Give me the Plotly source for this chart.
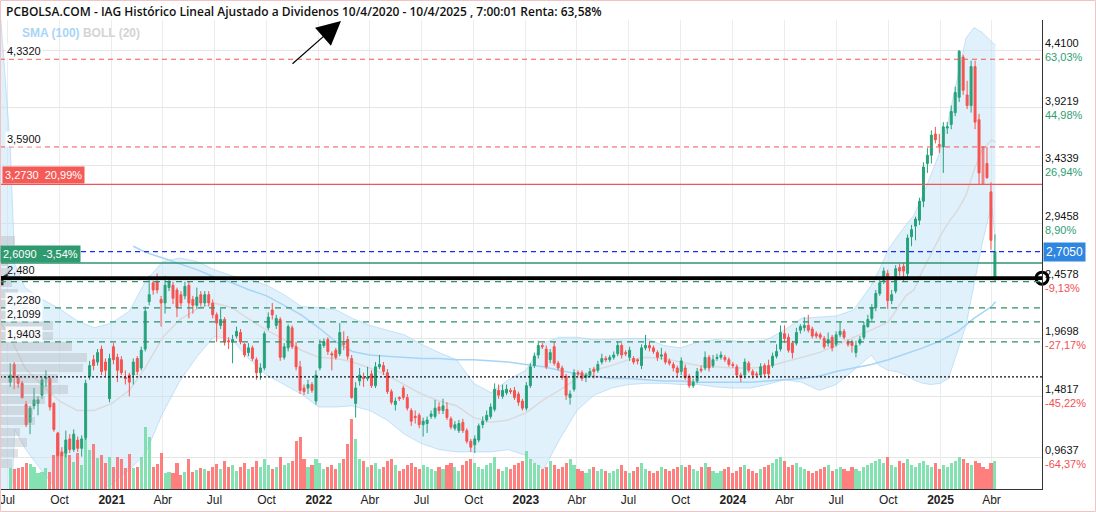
import plotly.graph_objects as go
import pandas as pd

# ---------------- weekly candles (IAG) ----------------
open_ = [1.60,1.75,1.64,1.59,1.41,1.26,1.40,1.42,1.49,1.63,
         1.63,1.42,1.17,1.01,1.00,1.12,1.03,1.11,1.04,1.13,
         1.65,1.79,1.77,1.88,1.77,1.46,1.90,1.81,1.79,1.64,
         1.66,1.66,1.80,1.72,1.88,2.28,2.44,2.45,2.30,2.27,
         2.40,2.42,2.38,2.34,2.33,2.42,2.30,2.25,2.34,2.27,
         2.34,2.27,2.17,2.08,2.13,1.95,1.94,1.99,2.02,1.92,
         1.85,1.89,1.79,1.68,1.72,2.06,2.21,2.08,2.13,1.81,
         1.89,2.06,1.90,1.73,1.55,1.55,1.58,1.44,1.72,1.91,
         1.96,1.84,1.87,1.84,1.93,1.96,1.80,1.42,1.61,1.64,
         1.63,1.67,1.57,1.73,1.74,1.68,1.52,1.41,1.47,1.55,
         1.47,1.36,1.31,1.32,1.24,1.25,1.31,1.31,1.39,1.36,
         1.37,1.29,1.21,1.19,1.26,1.19,1.10,1.07,1.11,1.24,
         1.28,1.31,1.37,1.53,1.48,1.51,1.53,1.53,1.50,1.44,
         1.38,1.57,1.74,1.83,1.91,1.88,1.79,1.90,1.76,1.72,
         1.65,1.47,1.54,1.68,1.68,1.64,1.66,1.71,1.70,1.77,
         1.80,1.79,1.81,1.84,1.91,1.85,1.81,1.80,1.79,1.74,
         1.89,1.91,1.89,1.85,1.82,1.84,1.78,1.75,1.72,1.69,
         1.72,1.65,1.57,1.61,1.71,1.72,1.81,1.74,1.80,1.81,
         1.81,1.79,1.75,1.73,1.66,1.66,1.76,1.69,1.67,1.66,
         1.74,1.74,1.74,1.82,1.88,2.01,1.98,1.93,1.93,2.04,
         2.06,2.08,2.05,2.01,2.00,1.97,1.93,1.98,1.92,2.00,
         2.03,1.94,1.94,1.85,1.93,1.98,2.07,2.14,2.23,2.35,
         2.46,2.52,2.29,2.37,2.57,2.58,2.52,2.83,2.92,2.97,
         3.13,3.45,3.52,3.70,3.61,3.59,3.75,3.78,3.88,4.01,
         4.35,4.03,3.94,4.27,3.82,3.59,3.45,3.21,2.48]
high = [1.76,1.77,1.66,1.61,1.44,1.40,1.55,1.48,1.64,1.70,
        1.65,1.43,1.18,1.05,1.19,1.16,1.20,1.14,1.15,1.62,
        1.78,1.83,1.88,1.91,1.80,1.84,1.93,1.84,1.82,1.70,
        1.68,1.80,1.82,1.90,2.24,2.50,2.46,2.52,2.33,2.50,
        2.49,2.45,2.40,2.37,2.45,2.45,2.33,2.40,2.37,2.37,
        2.37,2.30,2.19,2.22,2.15,1.98,2.00,2.07,2.05,1.93,
        1.93,1.91,1.81,1.76,2.03,2.19,2.27,2.17,2.15,1.93,
        2.09,2.08,1.94,1.78,1.58,1.62,1.60,1.70,1.96,1.97,
        1.98,1.86,1.89,2.10,2.03,1.99,1.83,1.60,1.72,1.68,
        1.73,1.70,1.77,1.83,1.77,1.71,1.54,1.47,1.48,1.57,
        1.50,1.38,1.36,1.34,1.30,1.31,1.36,1.45,1.43,1.46,
        1.43,1.31,1.27,1.28,1.29,1.21,1.12,1.15,1.25,1.31,
        1.36,1.42,1.59,1.58,1.58,1.58,1.55,1.56,1.52,1.46,
        1.60,1.76,1.85,1.95,1.93,1.91,1.88,1.94,1.78,1.74,
        1.67,1.53,1.71,1.70,1.70,1.68,1.72,1.73,1.78,1.84,
        1.82,1.83,1.86,1.94,1.93,1.87,1.90,1.82,1.80,1.92,
        2.00,1.94,1.91,1.87,1.89,1.86,1.80,1.77,1.74,1.81,
        1.75,1.67,1.63,1.72,1.74,1.86,1.83,1.83,1.84,1.86,
        1.83,1.81,1.77,1.75,1.68,1.80,1.78,1.71,1.69,1.76,
        1.76,1.79,1.85,1.92,2.08,2.08,2.01,1.95,2.06,2.09,
        2.15,2.17,2.07,2.03,2.02,1.99,2.02,2.00,2.03,2.11,
        2.05,1.96,1.96,1.95,1.99,2.11,2.17,2.26,2.38,2.47,
        2.57,2.55,2.38,2.59,2.60,2.61,2.85,2.93,3.00,3.16,
        3.46,3.58,3.73,3.76,3.70,3.80,3.80,3.94,4.10,4.41,
        4.37,4.15,4.32,4.32,3.87,3.59,3.59,3.29,2.85]
low = [1.56,1.54,1.55,1.46,1.22,1.16,1.37,1.32,1.46,1.56,
       1.36,1.18,0.97,0.97,0.9637,1.00,1.01,1.01,0.97,1.11,
       1.62,1.70,1.74,1.66,1.65,1.43,1.75,1.60,1.66,1.58,
       1.48,1.58,1.66,1.70,1.86,2.25,2.34,2.35,2.07,2.18,
       2.37,2.26,2.15,2.24,2.30,2.14,2.18,2.22,2.24,2.24,
       2.24,2.14,1.94,2.05,1.91,1.88,1.76,1.97,1.92,1.81,
       1.82,1.78,1.62,1.62,1.70,2.04,2.13,2.05,1.78,1.79,
       1.86,1.88,1.70,1.50,1.49,1.50,1.51,1.41,1.70,1.89,
       1.83,1.70,1.79,1.82,1.87,1.79,1.46,1.30,1.57,1.56,
       1.61,1.55,1.55,1.71,1.66,1.50,1.41,1.36,1.44,1.45,
       1.36,1.23,1.25,1.21,1.14,1.17,1.29,1.29,1.33,1.33,
       1.28,1.20,1.19,1.17,1.17,1.08,1.01,1.00,1.09,1.21,
       1.26,1.29,1.35,1.46,1.46,1.49,1.50,1.45,1.40,1.36,
       1.36,1.55,1.72,1.80,1.88,1.71,1.76,1.74,1.70,1.62,
       1.45,1.41,1.52,1.65,1.61,1.60,1.64,1.63,1.68,1.75,
       1.77,1.77,1.79,1.82,1.80,1.82,1.78,1.75,1.75,1.71,
       1.87,1.86,1.84,1.78,1.79,1.75,1.74,1.69,1.65,1.66,
       1.62,1.55,1.55,1.59,1.68,1.70,1.69,1.72,1.78,1.79,
       1.77,1.73,1.72,1.64,1.60,1.63,1.68,1.63,1.64,1.64,
       1.65,1.63,1.72,1.80,1.86,1.93,1.85,1.80,1.91,2.01,
       2.03,2.02,1.97,1.97,1.96,1.88,1.90,1.86,1.90,1.98,
       1.96,1.90,1.85,1.81,1.91,1.96,2.06,2.12,2.20,2.33,
       2.43,2.22,2.26,2.35,2.50,2.45,2.48,2.75,2.80,2.93,
       3.08,3.37,3.45,3.62,3.54,3.37,3.70,3.74,3.85,3.97,
       4.03,3.91,3.88,3.74,3.27,3.27,3.32,2.72,2.45]
close = [1.66,1.64,1.59,1.47,1.24,1.38,1.45,1.45,1.62,1.64,
         1.39,1.20,0.98,0.98,1.11,1.03,1.16,1.04,1.12,1.59,
         1.74,1.74,1.85,1.69,1.70,1.80,1.79,1.70,1.68,1.63,
         1.60,1.77,1.69,1.87,2.20,2.34,2.38,2.38,2.27,2.42,
         2.45,2.31,2.23,2.27,2.41,2.27,2.25,2.32,2.27,2.34,
         2.27,2.17,2.10,2.13,1.94,1.94,1.96,2.03,1.94,1.83,
         1.89,1.80,1.68,1.72,2.01,2.15,2.17,2.14,1.81,1.90,
         2.07,1.90,1.73,1.53,1.52,1.58,1.53,1.66,1.92,1.94,
         1.86,1.83,1.81,2.02,1.92,1.82,1.47,1.55,1.66,1.63,
         1.64,1.57,1.73,1.75,1.69,1.52,1.43,1.44,1.46,1.47,
         1.38,1.27,1.30,1.24,1.27,1.28,1.33,1.38,1.36,1.40,
         1.30,1.22,1.24,1.25,1.19,1.10,1.05,1.12,1.23,1.27,
         1.32,1.39,1.54,1.49,1.53,1.54,1.52,1.47,1.43,1.38,
         1.57,1.73,1.82,1.91,1.90,1.73,1.85,1.76,1.72,1.64,
         1.49,1.50,1.68,1.67,1.63,1.66,1.69,1.69,1.75,1.80,
         1.79,1.81,1.83,1.91,1.83,1.84,1.87,1.77,1.78,1.89,
         1.91,1.89,1.86,1.81,1.83,1.77,1.76,1.72,1.68,1.78,
         1.64,1.57,1.60,1.69,1.70,1.81,1.72,1.79,1.81,1.83,
         1.79,1.75,1.74,1.66,1.64,1.77,1.70,1.66,1.66,1.73,
         1.67,1.67,1.82,1.86,2.02,1.97,1.87,1.85,2.02,2.07,
         2.08,2.04,1.99,1.99,1.98,1.90,1.96,1.89,2.00,2.03,
         1.98,1.92,1.91,1.91,1.96,2.08,2.13,2.23,2.35,2.44,
         2.54,2.29,2.34,2.56,2.54,2.54,2.82,2.89,2.98,3.13,
         3.42,3.52,3.69,3.65,3.60,3.76,3.76,3.89,4.05,4.40,
         4.07,3.94,4.27,3.80,3.37,3.273,3.33,2.80,2.705]
volume = [21,20,21,22,26,25,22,16,17,21,17,34,55,34,44,34,27,36,24,51,
          39,45,31,34,26,32,22,32,30,21,35,21,22,32,62,52,22,25,36,16,
          17,16,26,14,17,30,17,19,21,
          20,18,22,25,20,28,22,24,18,22,26,20,22,28,22,
          30,24,20,22,32,24,26,28,48,52,
          30,22,24,30,26,20,22,24,20,26,
          30,45,70,50,30,28,
          22,24,26,20,22,28,30,24,18,20,24,26,22,20,24,22,20,18,22,20,24,26,22,18,24,28,
          30,26,22,20,24,26,32,20,18,22,20,24,26,28,38,
          30,26,24,20,22,28,24,20,22,26,30,24,20,18,16,20,22,18,20,
          18,16,18,20,24,18,16,18,22,26,20,18,16,18,22,20,18,20,22,24,
          22,24,20,18,22,26,22,18,16,18,20,22,16,18,22,24,20,18,16,20,
          22,24,26,30,32,28,22,24,26,22,20,18,16,18,20,22,24,18,20,22,
          20,18,22,20,18,22,24,26,28,30,26,32,24,22,28,26,30,24,22,26,
          28,24,22,26,20,24,22,26,28,32,30,26,24,28,26,22,20,26,28]

# ---------------- Bollinger (20) and SMA (100) ----------------
bb_dates = ["2020-06-19","2020-07-06","2020-07-14","2020-08-01","2020-09-01","2020-10-01","2020-11-01","2020-12-01",
            "2021-01-01","2021-02-01","2021-03-01","2021-04-01","2021-05-01","2021-06-01","2021-07-01","2021-08-01",
            "2021-09-01","2021-10-01","2021-11-01","2021-12-01","2022-01-01","2022-02-01","2022-03-01","2022-04-01",
            "2022-05-01","2022-06-01","2022-07-01","2022-08-01","2022-09-01","2022-10-01","2022-11-01","2022-12-01",
            "2023-01-01","2023-02-01","2023-03-01","2023-04-01","2023-05-01","2023-06-01","2023-07-01","2023-08-01",
            "2023-09-01","2023-10-01","2023-11-01","2023-12-01","2024-01-01","2024-02-01","2024-03-01","2024-04-01",
            "2024-05-01","2024-06-01","2024-07-01","2024-08-01","2024-09-01","2024-09-15","2024-10-01","2024-10-15",
            "2024-11-01","2024-11-15","2024-12-01","2024-12-15","2025-01-01","2025-01-15","2025-02-01","2025-02-15",
            "2025-03-01","2025-03-15","2025-04-01","2025-04-08"]
bb_upper = [4.70,3.60,2.60,2.40,2.30,2.22,2.12,2.06,
            2.10,2.20,2.45,2.62,2.65,2.62,2.55,2.50,
            2.47,2.42,2.34,2.24,2.23,2.21,2.14,2.08,
            2.04,2.00,1.92,1.85,1.79,1.59,1.51,1.62,
            1.70,1.93,1.98,1.98,1.96,1.96,1.97,1.97,
            1.91,1.89,1.94,1.96,1.95,1.94,1.96,2.04,
            2.14,2.15,2.16,2.21,2.42,2.55,2.72,2.82,
            2.93,3.01,3.18,3.35,3.56,3.82,4.20,4.51,
            4.60,4.56,4.48,4.45]
bb_mid = [2.10,1.98,1.90,1.72,1.57,1.44,1.36,1.36,
          1.42,1.53,1.72,1.98,2.13,2.22,2.27,2.23,
          2.13,2.04,1.96,1.87,1.81,1.80,1.77,1.72,
          1.66,1.58,1.50,1.44,1.40,1.30,1.26,1.28,
          1.34,1.45,1.53,1.63,1.70,1.74,1.79,1.81,
          1.80,1.77,1.74,1.73,1.72,1.72,1.73,1.77,
          1.81,1.85,1.91,1.98,2.04,2.07,2.11,2.21,
          2.33,2.38,2.55,2.68,2.84,2.95,3.06,3.18,
          3.39,3.56,3.65,3.63]
bb_lower = [-0.50,0.36,1.20,1.04,0.84,0.66,0.60,0.66,
            0.74,0.86,0.99,1.34,1.61,1.82,1.99,1.96,
            1.79,1.66,1.58,1.50,1.39,1.39,1.40,1.36,
            1.28,1.16,1.08,1.03,1.01,1.01,1.01,1.03,
            0.98,0.86,1.11,1.36,1.49,1.55,1.58,1.59,
            1.59,1.58,1.58,1.56,1.55,1.55,1.58,1.62,
            1.60,1.53,1.58,1.70,1.83,1.74,1.70,1.69,
            1.66,1.62,1.59,1.58,1.59,1.63,1.87,2.08,
            2.42,2.76,3.10,2.80]

sma_dates = ["2021-02-08","2021-03-01","2021-04-01","2021-05-01","2021-06-01","2021-07-01","2021-08-01",
             "2021-09-01","2021-10-01","2021-11-01","2021-12-01","2022-01-01","2022-02-01","2022-03-01",
             "2022-04-01","2022-05-01","2022-06-01","2022-07-01","2022-08-01","2022-09-01","2022-10-01",
             "2022-11-01","2022-12-01","2023-01-01","2023-02-01","2023-03-01","2023-04-01","2023-05-01",
             "2023-06-01","2023-07-01","2023-08-01","2023-09-01","2023-10-01","2023-11-01","2023-12-01",
             "2024-01-01","2024-02-01","2024-03-01","2024-04-01","2024-05-01","2024-06-01","2024-07-01",
             "2024-08-01","2024-09-01","2024-10-01","2024-11-01","2024-12-01","2025-01-01","2025-02-01",
             "2025-03-01","2025-04-01","2025-04-08"]
sma_vals = [2.75,2.70,2.65,2.60,2.55,2.49,2.44,
            2.38,2.33,2.25,2.17,2.06,1.94,1.86,
            1.83,1.82,1.81,1.80,1.80,1.79,1.79,
            1.78,1.77,1.75,1.73,1.70,1.67,1.65,
            1.63,1.63,1.62,1.61,1.61,1.60,1.60,
            1.60,1.60,1.61,1.62,1.63,1.65,1.69,
            1.72,1.75,1.79,1.84,1.89,1.95,2.03,
            2.14,2.24,2.28]

# ---------------- volume-at-price profile (left) ----------------
prof_price = [2.80,2.71,2.62,2.53,2.44,2.35,2.26,2.17,2.08,1.99,1.90,1.81,1.72,1.63,1.54,1.45,1.36,1.27,1.18,1.09,1.00,0.91]
prof_size = [15,12,8,10,12,18,22,25,53,53,72,87,83,58,68,45,33,35,20,27,18,12]

# ---------------- reference levels ----------------
levels_red_dash = [4.3320, 3.5900]
level_red = 3.2730
level_blue = 2.7050
level_green = 2.6090
level_black = 2.480
levels_green_dash = [2.45, 2.2280, 2.1099, 1.9403]
level_dotted = 1.645

axis_vals = [4.4100, 3.9219, 3.4339, 2.9458, 2.4578, 1.9698, 1.4817, 0.9637]
axis_pcts = ["63,03%", "44,98%", "26,94%", "8,90%", "-9,13%", "-27,17%", "-45,22%", "-64,37%"]

tick_dates = pd.date_range("2020-07-01", "2025-04-01", freq="QS")
tick_text = [("<b>%d</b>" % d.year) if d.month == 1 else {4: "Abr", 7: "Jul", 10: "Oct"}[d.month] for d in tick_dates]

dates = pd.date_range(end="2025-04-07", periods=len(close), freq="7D")
hollow_idx = 245

GREEN = "#26a27a"
RED = "#f6534f"
W = 1042.0  # plot width px
H = 469.0   # plot height px

fig = go.Figure()

# Bollinger band
fig.add_trace(go.Scatter(x=bb_dates, y=bb_upper, mode="lines",
                         line=dict(color="rgba(165,210,242,0.6)", width=1), hoverinfo="skip", showlegend=False))
fig.add_trace(go.Scatter(x=bb_dates, y=bb_lower, mode="lines",
                         line=dict(color="rgba(165,210,242,0.6)", width=1), fill="tonexty",
                         fillcolor="rgba(196,228,250,0.5)", hoverinfo="skip", showlegend=False))
fig.add_trace(go.Scatter(x=bb_dates, y=bb_mid, mode="lines", line=dict(color="#dadada", width=1.5),
                         hoverinfo="skip", showlegend=False))
fig.add_trace(go.Scatter(x=sma_dates, y=sma_vals, mode="lines", line=dict(color="#a6d4f7", width=1.5),
                         hoverinfo="skip", showlegend=False))

# volume profile
fig.add_trace(go.Bar(x=prof_size, y=prof_price, orientation="h", xaxis="x2", yaxis="y",
                     marker=dict(color="rgba(165,165,165,0.32)", line=dict(width=0)), width=0.072,
                     hoverinfo="skip", showlegend=False))

# volume
vol_colors = ["rgba(110,220,165,0.85)" if c >= o else "rgba(255,105,105,0.85)" for o, c in zip(open_, close)]
fig.add_trace(go.Bar(x=dates, y=volume, yaxis="y2", marker=dict(color=vol_colors, line=dict(width=0)),
                     width=7 * 86400000 * 0.78, hoverinfo="skip", showlegend=False))

# candles
idx = [i for i in range(len(close)) if i != hollow_idx]
fig.add_trace(go.Candlestick(
    x=[dates[i] for i in idx], open=[open_[i] for i in idx], high=[high[i] for i in idx],
    low=[low[i] for i in idx], close=[close[i] for i in idx], yaxis="y3",
    increasing=dict(line=dict(color=GREEN, width=1), fillcolor=GREEN),
    decreasing=dict(line=dict(color=RED, width=1), fillcolor=RED),
    whiskerwidth=0, hoverinfo="skip", showlegend=False))
hd = dates[hollow_idx]
half = pd.Timedelta(days=1.4)
fig.add_trace(go.Scatter(
    x=[hd - half, hd - half, hd + half, hd + half, hd - half],
    y=[open_[hollow_idx], close[hollow_idx], close[hollow_idx], open_[hollow_idx], open_[hollow_idx]],
    yaxis="y3", mode="lines", line=dict(color=RED, width=1), hoverinfo="skip", showlegend=False))

# ring and handle of the black level
x_end = pd.Timestamp("2025-06-29")
x_start = pd.Timestamp("2020-06-22")
fig.add_trace(go.Scatter(x=[x_end], y=[level_black], yaxis="y3", mode="markers", cliponaxis=False,
                         marker=dict(symbol="circle-open", size=12, color="black", line=dict(width=3)),
                         hoverinfo="skip", showlegend=False))
fig.add_trace(go.Scatter(x=[x_start], y=[level_black], yaxis="y3", mode="markers", cliponaxis=False,
                         marker=dict(symbol="y-down-open", size=9, color="black", line=dict(width=2.5)),
                         hoverinfo="skip", showlegend=False))

shapes = []
def hline(y, color, width=1, dash="solid"):
    shapes.append(dict(type="line", xref="paper", x0=0, x1=1, yref="y", y0=y, y1=y,
                       line=dict(color=color, width=width, dash=dash)))

for v in levels_red_dash:
    hline(v, "#f25555", 1, "5px,4px")
hline(level_red, "#f25555", 1.2)
hline(level_blue, "#1b2cf5", 1.2, "5px,4px")
hline(level_green, "#2f9470", 1.5)
for v in levels_green_dash:
    hline(v, "#2f8f6c", 1.2, "6px,5px")
hline(level_dotted, "#111111", 1.2, "2px,2px")
hline(level_black, "#000000", 3.8)

# outer border
shapes.append(dict(type="rect", xref="paper", yref="paper", x0=0.0005, x1=1095.5 / W,
                   y0=(489 - 511.5) / H, y1=(489 - 0.5) / H, line=dict(color="#f0c4c4", width=1)))

annotations = []
# title
annotations.append(dict(xref="paper", yref="paper", x=4 / W, y=(489 - 11) / H, xanchor="left", yanchor="middle",
                        showarrow=False,
                        text="PCBOLSA.COM - IAG Histórico Lineal Ajustado a Dividenos 10/4/2020 - 10/4/2025 , 7:00:01 Renta: 63,58%",
                        font=dict(family="Open Sans", size=12, color="#111111", weight=600)))
annotations.append(dict(xref="paper", yref="paper", x=20 / W, y=(489 - 33) / H, xanchor="left", yanchor="middle",
                        showarrow=False,
                        text="<b><span style='color:#a8d5f6'>SMA (100)</span> <span style='color:#d4d4d4'>BOLL (20)</span></b>",
                        font=dict(family="Liberation Sans", size=12)))
# arrow
annotations.append(dict(xref="paper", yref="paper", x=341 / W, y=(489 - 21) / H, ax=-50, ay=44,
                        showarrow=True, arrowhead=2, arrowsize=4, arrowwidth=1.2, arrowcolor="black", text=""))

# right axis labels
for v, p in zip(axis_vals, axis_pcts):
    col = "#2f9e72" if not p.startswith("-") else "#f25050"
    annotations.append(dict(xref="paper", yref="y", x=1, y=v, xanchor="left", yanchor="middle", xshift=1,
                            showarrow=False, align="left",
                            text="%s<br><span style='color:%s'>%s</span>" % (("%.4f" % v).replace(".", ","), col, p),
                            font=dict(family="Liberation Sans", size=11, color="#111111")))
annotations.append(dict(xref="paper", yref="y", x=1, y=level_blue, xanchor="left", yanchor="middle", xshift=1,
                        showarrow=False, text=("%.4f" % level_blue).replace(".", ","), bgcolor="#2f86e0",
                        borderpad=2, font=dict(family="Liberation Sans", size=12, color="white")))

# left labels
def lab(v, text, bg="rgba(255,255,255,0.85)", color="#111111", yshift=8):
    annotations.append(dict(xref="paper", yref="y", x=5 / W, y=v, xanchor="left", yanchor="middle",
                            yshift=yshift, showarrow=False, text=text, bgcolor=bg, borderpad=1,
                            font=dict(family="Liberation Sans", size=11, color=color)))

lab(levels_red_dash[0], "4,3320")
lab(levels_red_dash[1], "3,5900")
annotations.append(dict(xref="paper", yref="y", x=2 / W, y=level_red, xanchor="left", yanchor="bottom",
                        showarrow=False, text="3,2730  20,99%", bgcolor="#f55a57", borderpad=2,
                        font=dict(family="Liberation Sans", size=11, color="white")))
annotations.append(dict(xref="paper", yref="y", x=0, y=level_green, xanchor="left", yanchor="bottom",
                        showarrow=False, text="2,6090  -3,54%", bgcolor="#2f9a70", borderpad=2,
                        font=dict(family="Liberation Sans", size=11, color="white")))
lab(level_black, "2,480", bg="rgba(0,0,0,0)")
lab(2.2280, "2,2280")
lab(2.1099, "2,1099")
lab(1.9403, "1,9403")

fig.update_layout(
    width=1096, height=512,
    margin=dict(l=0, r=54, t=20, b=23),
    paper_bgcolor="white", plot_bgcolor="white",
    showlegend=False, bargap=0,
    font=dict(family="Liberation Sans", size=12, color="#222222"),
    xaxis=dict(type="date", range=["2020-06-18", "2025-06-29"], tickvals=list(tick_dates), ticktext=tick_text,
               showgrid=True, gridcolor="#ececec", gridwidth=1, showline=True, linecolor="#333333",
               ticks="", ticklabeloverflow="allow", rangeslider=dict(visible=False),
               tickfont=dict(size=12, color="#222222")),
    xaxis2=dict(overlaying="x", range=[0, W], visible=False),
    yaxis=dict(range=[0.696, 4.664], side="right", tickvals=axis_vals, showticklabels=False,
               showgrid=True, gridcolor="#e6e6e6", showline=True, linecolor="#333333", zeroline=False, ticks=""),
    yaxis2=dict(overlaying="y", range=[0, H], visible=False),
    yaxis3=dict(overlaying="y", range=[0.696, 4.664], visible=False),
    shapes=shapes, annotations=annotations,
)

fig.write_html("out.html")
